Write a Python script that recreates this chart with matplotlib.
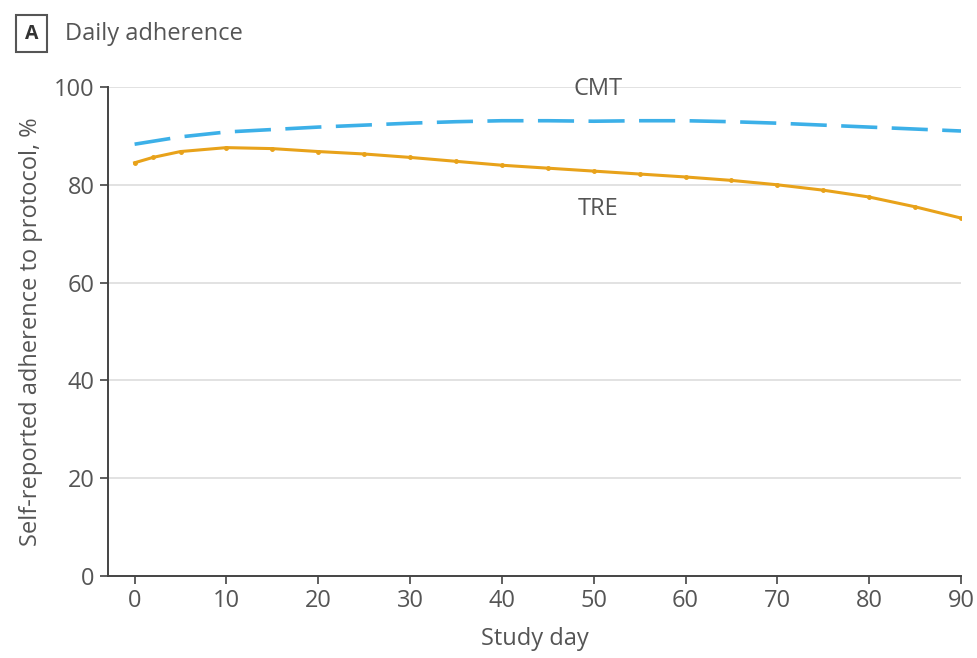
import matplotlib
matplotlib.use("Agg")
import matplotlib.pyplot as plt

plt.rcParams['font.family'] = ['Open Sans', 'DejaVu Sans']

cmt_days = [0, 5, 10, 15, 20, 25, 30, 35, 40, 45, 50, 55, 60, 65, 70, 75, 80, 85, 90]
cmt_vals = [88.3, 89.8, 90.8, 91.3, 91.8, 92.2, 92.6, 92.9, 93.1, 93.1, 93.0, 93.1, 93.1, 92.9, 92.6, 92.2, 91.8, 91.4, 91.0]

tre_days = [0, 2, 5, 10, 15, 20, 25, 30, 35, 40, 45, 50, 55, 60, 65, 70, 75, 80, 85, 90]
tre_vals = [84.5, 85.6, 86.8, 87.6, 87.4, 86.8, 86.3, 85.6, 84.8, 84.0, 83.4, 82.8, 82.2, 81.6, 80.9, 80.0, 78.9, 77.5, 75.5, 73.2]

x_ticks = [0, 10, 20, 30, 40, 50, 60, 70, 80, 90]
y_ticks = [0, 20, 40, 60, 80, 100]

txt = '#555555'
fs = 17
fig = plt.figure(figsize=(9.78, 6.58), dpi=100)
ax = fig.add_axes([0.1104, 0.1246, 0.8722, 0.7432])

for y in y_ticks[1:]:
    ax.axhline(y, color='#dddddd', lw=1.2, zorder=0)

ax.plot(cmt_days, cmt_vals, color='#3cb0e8', lw=2.6, ls=(0, (10, 4)), zorder=3)
ax.plot(tre_days, tre_vals, color='#e8a21a', lw=2.2, marker='o', ms=2.5, zorder=3)

ax.text(50.5, 99.6, 'CMT', ha='center', va='center', fontsize=fs, color=txt)
ax.text(50.5, 75.0, 'TRE', ha='center', va='center', fontsize=fs, color=txt)

ax.set_xlim(-2.9, 90)
ax.set_ylim(0, 100)
ax.set_xticks(x_ticks)
ax.set_yticks(y_ticks)
ax.tick_params(axis='both', colors='#444444', labelcolor=txt, labelsize=fs, length=6, width=1.2)
for s in ['top', 'right']:
    ax.spines[s].set_visible(False)
for s in ['left', 'bottom']:
    ax.spines[s].set_color('#444444')
    ax.spines[s].set_linewidth(1.4)

ax.set_xlabel('Study day', fontsize=fs, color=txt, labelpad=10)
ax.set_ylabel('Self-reported adherence to protocol, %', fontsize=fs, color=txt, labelpad=8)

fig.text(0.032, 0.949, 'A', ha='center', va='center', fontsize=14, color='#333333', fontweight='bold',
         bbox=dict(boxstyle='square,pad=0.45', fc='white', ec='#555555', lw=1.5))
fig.text(0.066, 0.949, 'Daily adherence', ha='left', va='center', fontsize=fs, color=txt)

fig.savefig('out.png', dpi=100)
